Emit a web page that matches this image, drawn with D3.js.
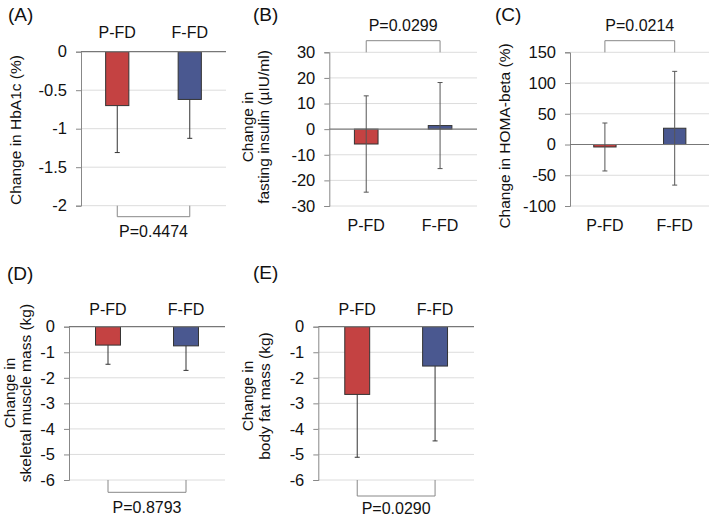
<!DOCTYPE html>
<html><head><meta charset="utf-8">
<script src="https://cdn.jsdelivr.net/npm/d3@7"></script>
<style>
html,body{margin:0;padding:0;background:#fff;}
text{font-family:"Liberation Sans",Arial,sans-serif;fill:#111;}
</style></head>
<body><svg id="c" width="709" height="519"></svg>
<script>
const categories = ["P-FD", "F-FD"];

const hba1cValues = [-0.70, -0.62];
const hba1cErrors = [0.61, 0.505];
const hba1cTicks = [0, -0.5, -1, -1.5, -2];

const insulinValues = [-5.8, 1.4];
const insulinErrors = [18.8, 16.8];
const insulinTicks = [30, 20, 10, 0, -10, -20, -30];

const homaValues = [-4, 26.5];
const homaErrors = [39, 92.5];
const homaTicks = [150, 100, 50, 0, -50, -100];

const muscleValues = [-0.72, -0.75];
const muscleErrors = [0.75, 0.96];
const muscleTicks = [0, -1, -2, -3, -4, -5, -6];

const fatValues = [-2.65, -1.54];
const fatErrors = [2.46, 2.93];
const fatTicks = [0, -1, -2, -3, -4, -5, -6];

const panelLetters = ["(A)", "(B)", "(C)", "(D)", "(E)"];
const pValues = ["P=0.4474", "P=0.0299", "P=0.0214", "P=0.8793", "P=0.0290"];

const colors = ["#C44242", "#4A5890"];

const svg = d3.select("#c");

const panels = [
  {letter: panelLetters[0], p: pValues[0], values: hba1cValues, errors: hba1cErrors, ticks: hba1cTicks,
   box: {l: 81, r: 226, t: 51.7, b: 205.7}, twoSided: false, catPos: "top", pPos: "bottom",
   letterXY: [8, 21], catY: 38, pY: 236.5, bracketY: 216.7, errColor: "#333",
   ylabel: ["Change in HbA1c (%)"], ylabelX: [16], ylabelY: 130},
  {letter: panelLetters[1], p: pValues[1], values: insulinValues, errors: insulinErrors, ticks: insulinTicks,
   box: {l: 329.3, r: 477, t: 52.3, b: 206}, twoSided: true, catPos: "bottom", pPos: "top",
   letterXY: [253, 21], catY: 231, pY: 30.5, bracketY: 40.7, errColor: "#555",
   ylabel: ["Change in", "fasting insulin (µIU/ml)"], ylabelX: [247.5, 264], ylabelY: 127},
  {letter: panelLetters[2], p: pValues[2], values: homaValues, errors: homaErrors, ticks: homaTicks,
   box: {l: 570, r: 709.6, t: 52.3, b: 206}, twoSided: true, catPos: "bottom", pPos: "top",
   letterXY: [495, 21], catY: 231, pY: 30.5, bracketY: 40.7, errColor: "#555",
   ylabel: ["Change in HOMA-beta (%)"], ylabelX: [505], ylabelY: 136},
  {letter: panelLetters[3], p: pValues[3], values: muscleValues, errors: muscleErrors, ticks: muscleTicks,
   box: {l: 69, r: 225, t: 326.7, b: 480}, twoSided: false, catPos: "top", pPos: "bottom",
   letterXY: [7, 280], catY: 315, pY: 513, bracketY: 492.3, errColor: "#333",
   ylabel: ["Change in", "skeletal muscle mass (kg)"], ylabelX: [9.5, 26], ylabelY: 393},
  {letter: panelLetters[4], p: pValues[4], values: fatValues, errors: fatErrors, ticks: fatTicks,
   box: {l: 318.3, r: 474, t: 326.7, b: 480}, twoSided: false, catPos: "top", pPos: "bottom",
   letterXY: [253, 279], catY: 315, pY: 514, bracketY: 496, errColor: "#333",
   ylabel: ["Change in", "body fat mass (kg)"], ylabelX: [247.5, 265], ylabelY: 396}
];

panels.forEach(P => {
  const B = P.box;
  const g = svg.append("g");
  const y = d3.scaleLinear().domain([d3.min(P.ticks), d3.max(P.ticks)]).range([B.b, B.t]);
  const x = d3.scalePoint().domain(categories).range([B.l, B.r]).padding(0.5);
  const bw = x.step() * 0.32;

  // gridlines
  g.selectAll(".grid").data(P.ticks.filter(t => t !== 0)).enter().append("line")
    .attr("x1", B.l).attr("x2", B.r).attr("y1", d => y(d)).attr("y2", d => y(d))
    .attr("stroke", "#dcdcdc").attr("stroke-width", 1);

  // y axis
  const axis = d3.axisLeft(y).tickValues(P.ticks).tickSize(5).tickPadding(9).tickFormat(d => String(d));
  const ag = g.append("g").attr("transform", `translate(${B.l},0)`).call(axis);
  ag.select(".domain").attr("stroke", "#888");
  ag.selectAll(".tick line").attr("stroke", "#888");
  ag.selectAll(".tick text").style("font-size", "16.5px").attr("fill", "#111")
    .style("font-family", '"Liberation Sans",Arial,sans-serif');

  // bars
  g.selectAll(".bar").data(P.values).enter().append("rect")
    .attr("x", (d, i) => x(categories[i]) - bw / 2)
    .attr("y", d => Math.min(y(d), y(0)))
    .attr("width", bw)
    .attr("height", d => Math.abs(y(d) - y(0)))
    .attr("fill", (d, i) => colors[i])
    .attr("stroke", "#333").attr("stroke-width", 1);

  // zero line
  g.append("line").attr("x1", B.l).attr("x2", B.r).attr("y1", y(0)).attr("y2", y(0))
    .attr("stroke", "#777").attr("stroke-width", 1.2);

  // error bars
  P.values.forEach((v, i) => {
    const cx = x(categories[i]);
    const e = P.errors[i];
    const lo = v - e, hi = v + e;
    const y1 = P.twoSided ? y(hi) : y(v);
    const y2 = y(lo);
    g.append("line").attr("x1", cx).attr("x2", cx).attr("y1", y1).attr("y2", y2)
      .attr("stroke", P.errColor).attr("stroke-width", 1);
    g.append("line").attr("x1", cx - 2.5).attr("x2", cx + 2.5).attr("y1", y2).attr("y2", y2)
      .attr("stroke", P.errColor).attr("stroke-width", 1);
    if (P.twoSided) {
      g.append("line").attr("x1", cx - 2.5).attr("x2", cx + 2.5).attr("y1", y1).attr("y2", y1)
        .attr("stroke", P.errColor).attr("stroke-width", 1);
    }
  });

  // category labels
  g.selectAll(".cat").data(categories).enter().append("text")
    .attr("x", d => x(d)).attr("y", P.catY).attr("text-anchor", "middle")
    .style("font-size", "16px").text(d => d);

  // bracket
  const bx1 = x(categories[0]), bx2 = x(categories[1]);
  const edge = P.pPos === "top" ? B.t : B.b;
  g.append("path")
    .attr("d", `M${bx1},${edge}V${P.bracketY}H${bx2}V${edge}`)
    .attr("fill", "none").attr("stroke", "#888").attr("stroke-width", 1);
  g.append("text").attr("x", (bx1 + bx2) / 2).attr("y", P.pY).attr("text-anchor", "middle")
    .style("font-size", "16px").text(P.p);

  // panel letter
  g.append("text").attr("x", P.letterXY[0]).attr("y", P.letterXY[1])
    .style("font-size", "19px").text(P.letter);

  // y label
  P.ylabel.forEach((line, k) => {
    g.append("text")
      .attr("transform", `translate(${P.ylabelX[k]},${P.ylabelY}) rotate(-90)`)
      .attr("text-anchor", "middle").attr("dy", "0.35em")
      .style("font-size", "15.5px").text(line);
  });
});
</script></body></html>
